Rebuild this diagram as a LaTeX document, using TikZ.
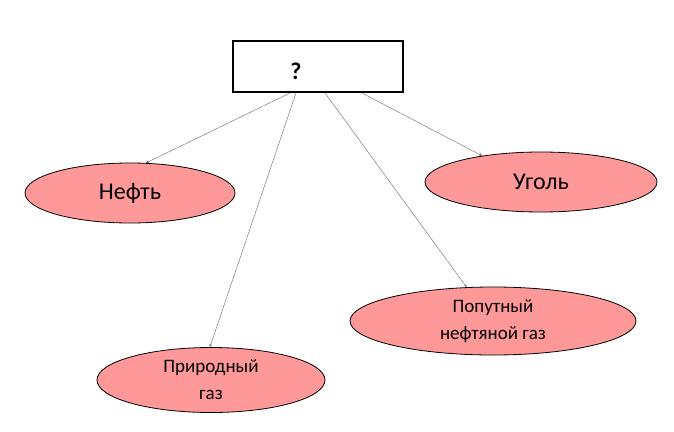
\documentclass[tikz,border=0pt]{standalone}
\usepackage{fontspec}
\setmainfont{Carlito}
\usetikzlibrary{shapes.geometric,positioning}
\definecolor{rosa}{RGB}{255,153,153}
\tikzset{
	fuel/.style={ellipse, draw=black, thick, fill=rosa, align=center, inner sep=0pt},
	link/.style={->, >=stealth, draw=gray!80!black, thin}
}
\begin{document}
\begin{tikzpicture}[x=1pt, y=-1pt]
	\useasboundingbox (0,0) rectangle (674,431);
	\node[draw, line width=2.5pt, minimum width=170pt, minimum height=51pt] (box) at (318,66.5) {};
	\node[font=\bfseries\fontsize{24}{28}\selectfont] (q) at (296,71) {?};
	\node[fuel, minimum width=210pt, minimum height=60pt, font=\fontsize{24}{28}\selectfont] (oil) at (130,193) {Нефть};
	\node[fuel, minimum width=232pt, minimum height=60pt, font=\fontsize{24}{28}\selectfont] (coal) at (541,182) {Уголь};
	\node[fuel, minimum width=286pt, minimum height=68pt, font=\fontsize{19}{27}\selectfont] (assoc) at (493,321) {Попутный\\нефтяной газ};
	\node[fuel, minimum width=228pt, minimum height=65pt, font=\fontsize{19}{27}\selectfont] (natgas) at (211,380) {Природный\\газ};

	\coordinate (s1) at (290,93);
	\coordinate (s2) at (296,93);
	\coordinate (s3) at (325,93);
	\coordinate (s4) at (362,93);
	\draw[link] (s1) -- (oil.62);
	\draw[link] (s2) -- (natgas.92);
	\draw[link] (s3) -- (assoc.128);
	\draw[link] (s4) -- (coal.156);
\end{tikzpicture}
\end{document}
